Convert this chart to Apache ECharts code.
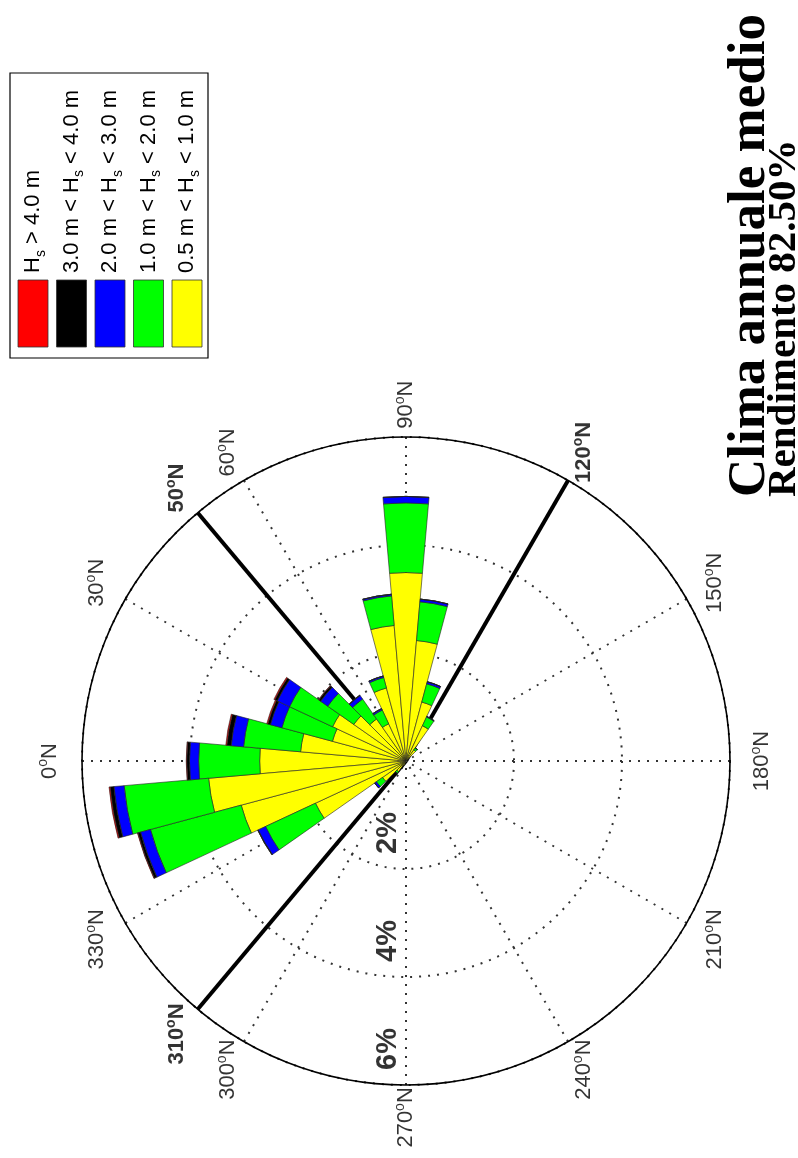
<!DOCTYPE html>
<html>
<head>
<meta charset="utf-8">
<script src="https://cdn.jsdelivr.net/npm/echarts@6/dist/echarts.min.js"></script>
<style>
  html, body { margin: 0; padding: 0; background: #ffffff; }
  #chart { width: 798px; height: 1158px; }
</style>
</head>
<body>
<div id="chart"></div>
<script>
// Direction sectors (degrees from North, 10-degree bins)
const sectors = [0, 10, 20, 30, 40, 50, 60, 70, 80, 90, 100, 110, 120, 130, 140, 150, 160, 170,
                 180, 190, 200, 210, 220, 230, 240, 250, 260, 270, 280, 290, 300, 310, 320, 330, 340, 350];

// Frequency of occurrence (%) per sector and wave-height class
const hs05to10 = [2.71, 1.96, 1.41, 1.50, 1.18, 0.95, 0.76, 1.40, 2.52, 3.49, 2.24, 1.13, 0.72, 0.25, 0.05, 0, 0, 0,
                  0, 0, 0, 0, 0, 0, 0, 0, 0, 0, 0, 0, 0.10, 0.24, 0.53, 1.85, 3.16, 3.67];
const hs10to20 = [1.13, 1.06, 0.97, 0.88, 0.59, 0.45, 0.28, 0.20, 0.55, 1.29, 0.72, 0.35, 0.18, 0.05, 0, 0, 0, 0,
                  0, 0, 0, 0, 0, 0, 0, 0, 0, 0, 0, 0, 0, 0.04, 0.14, 1.02, 1.74, 1.57];
const hs20to30 = [0.17, 0.23, 0.22, 0.25, 0.16, 0.08, 0.03, 0.03, 0.03, 0.12, 0.05, 0.04, 0.01, 0, 0, 0, 0, 0,
                  0, 0, 0, 0, 0, 0, 0, 0, 0, 0, 0, 0, 0, 0, 0.04, 0.15, 0.19, 0.19];
const hs30to40 = [0.05, 0.08, 0.05, 0.05, 0.04, 0.01, 0, 0, 0, 0, 0, 0, 0, 0, 0, 0, 0, 0,
                  0, 0, 0, 0, 0, 0, 0, 0, 0, 0, 0, 0, 0, 0, 0, 0.01, 0.05, 0.07];
const hsAbove40 = [0.01, 0.02, 0.02, 0.02, 0.01, 0, 0, 0, 0, 0, 0, 0, 0, 0, 0, 0, 0, 0,
                   0, 0, 0, 0, 0, 0, 0, 0, 0, 0, 0, 0, 0, 0, 0, 0, 0.01, 0.02];

// Wave-height classes, outermost first (legend order)
const classLabels = [
  '{a|H}{b|s}{a| > 4.0 m}',
  '{a|3.0 m < H}{b|s}{a| < 4.0 m}',
  '{a|2.0 m < H}{b|s}{a| < 3.0 m}',
  '{a|1.0 m < H}{b|s}{a| < 2.0 m}',
  '{a|0.5 m < H}{b|s}{a| < 1.0 m}'
];
const classColors = ['#ff0000', '#000000', '#0000ff', '#00ff00', '#ffff00'];
const classData = [hsAbove40, hs30to40, hs20to30, hs10to20, hs05to10];

// Angular tick labels and radial rings
const angleTicks = [0, 30, 60, 90, 150, 180, 210, 240, 270, 300, 330];
const boundaryAngles = [50, 120, 310];
const ringValues = [2, 4, 6];

const titleText = 'Clima annuale medio';
const subtitleText = 'Rendimento 82.50%';

const CENTER = [406, 761];
const RADIUS = 324;
const R_MAX = 6;
const LABEL_R = 6.6;
const SANS = 'Liberation Sans, Arial, sans-serif';
const SERIF = 'Liberation Serif, Times New Roman, serif';
const dotted = { color: '#333', width: 2, type: [2, 7] };

const degRich = (weight) => ({
  n: { fontSize: 22, fontFamily: SANS, fontWeight: weight, color: '#000', lineHeight: 26 },
  s: { fontSize: 14, fontFamily: SANS, fontWeight: weight, color: '#000', lineHeight: 14, verticalAlign: 'top' }
});

const chart = echarts.init(document.getElementById('chart'), null, { renderer: 'canvas' });

// bars: stacked from the innermost class outward
const barSeries = classData.slice().reverse().map((d, i) => {
  const k = classData.length - 1 - i;
  return {
    type: 'bar', coordinateSystem: 'polar', polarIndex: 0, stack: 'rose',
    data: d, barCategoryGap: '0%', z: 3, silent: true,
    itemStyle: { color: classColors[k], borderColor: '#222', borderWidth: 0.6 }
  };
});

const boundarySeries = boundaryAngles.map(a => ({
  type: 'line', coordinateSystem: 'polar', polarIndex: 1, z: 2, silent: true,
  symbol: 'none', clip: false,
  data: [[R_MAX, a], [0, a]],
  lineStyle: { color: '#000', width: 4 }
}));

const legendGraphics = [{
  type: 'rect', shape: { x: 10, y: 73, width: 198, height: 285 },
  style: { fill: '#fff', stroke: '#000', lineWidth: 1.2 }
}];
classLabels.forEach((txt, i) => {
  const x0 = 18 + i * 38.5;
  legendGraphics.push({
    type: 'rect', shape: { x: x0, y: 280, width: 30, height: 67 },
    style: { fill: classColors[i], stroke: '#333', lineWidth: 0.8 }
  });
  legendGraphics.push({
    type: 'text', x: x0 + 15, y: 273, rotation: Math.PI / 2,
    style: {
      text: txt, align: 'left', verticalAlign: 'middle',
      rich: {
        a: { fontSize: 22, fontFamily: SANS, fill: '#000', lineHeight: 30 },
        b: { fontSize: 14, fontFamily: SANS, fill: '#000', lineHeight: 14, verticalAlign: 'bottom' }
      }
    }
  });
});

chart.setOption({
  animation: false,
  backgroundColor: '#ffffff',
  polar: [
    { center: CENTER, radius: RADIUS },
    { center: CENTER, radius: RADIUS }
  ],
  angleAxis: [
    { polarIndex: 0, type: 'category', data: sectors, startAngle: 185, clockwise: true, boundaryGap: true, show: false },
    { polarIndex: 1, type: 'value', min: 0, max: 360, interval: 30, startAngle: 180, clockwise: true,
      axisLine: { show: true, lineStyle: { color: '#000', width: 1.6 } },
      axisTick: { show: false }, axisLabel: { show: false },
      splitLine: { show: true, lineStyle: dotted } }
  ],
  radiusAxis: [
    { polarIndex: 0, type: 'value', min: 0, max: R_MAX, show: false },
    { polarIndex: 1, type: 'value', min: 0, max: R_MAX, interval: 2,
      axisLine: { show: false }, axisTick: { show: false }, axisLabel: { show: false },
      splitLine: { show: true, lineStyle: dotted } }
  ],
  series: [
    ...boundarySeries,
    ...barSeries,
    {
      type: 'scatter', coordinateSystem: 'polar', polarIndex: 1, z: 5, silent: true, clip: false,
      symbolSize: 1, itemStyle: { color: 'rgba(0,0,0,0)' },
      data: angleTicks.map(a => [LABEL_R, a]),
      label: { show: true, position: 'inside', rotate: 90,
        formatter: p => `{n|${p.value[1]}}{s|o}{n|N}`, rich: degRich('normal') }
    },
    {
      type: 'scatter', coordinateSystem: 'polar', polarIndex: 1, z: 5, silent: true, clip: false,
      symbolSize: 1, itemStyle: { color: 'rgba(0,0,0,0)' },
      data: boundaryAngles.map(a => [LABEL_R, a]),
      label: { show: true, position: 'inside', rotate: 90,
        formatter: p => `{n|${p.value[1]}}{s|o}{n|N}`, rich: degRich('bold') }
    },
    {
      type: 'scatter', coordinateSystem: 'polar', polarIndex: 1, z: 5, silent: true, clip: false,
      symbolSize: 1, itemStyle: { color: 'rgba(0,0,0,0)' },
      data: ringValues.map(r => [r, 270]),
      // offset is expressed in the rotated label frame
      label: { show: true, position: 'inside', rotate: 90, offset: [36, -18],
        formatter: p => `${p.value[0]}%`,
        fontSize: 29, fontWeight: 'bold', fontFamily: SANS, color: '#000' }
    }
  ],
  graphic: [
    ...legendGraphics,
    { type: 'text', x: 750, y: 497, rotation: Math.PI / 2,
      style: { text: titleText, align: 'left', verticalAlign: 'middle',
        font: 'bold 53px ' + SERIF, fill: '#000' } },
    { type: 'text', x: 784, y: 497, rotation: Math.PI / 2,
      style: { text: subtitleText, align: 'left', verticalAlign: 'middle',
        font: 'bold 41px ' + SERIF, fill: '#000' } }
  ]
});
</script>
</body>
</html>
